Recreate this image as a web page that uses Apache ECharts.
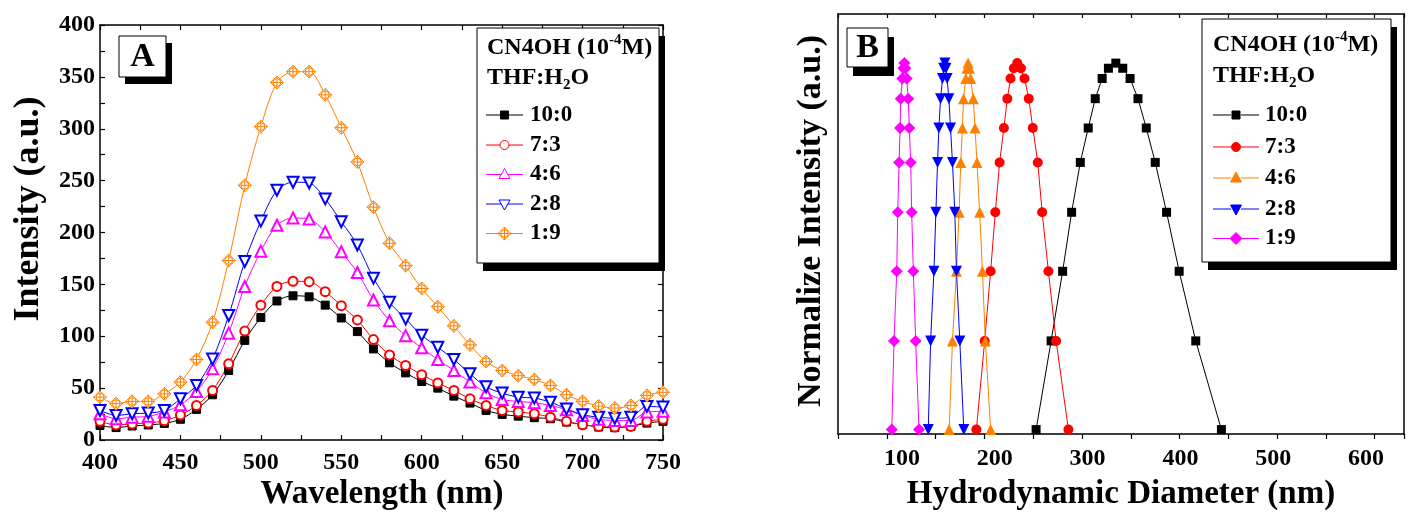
<!DOCTYPE html>
<html><head><meta charset="utf-8">
<script src="https://cdn.jsdelivr.net/npm/echarts@6/dist/echarts.min.js"></script>
<style>html,body{margin:0;padding:0;background:#fff}#c{width:1416px;height:515px}</style>
</head><body><div id="c"></div>
<script>
// ---------- Panel A data: PL spectra ----------
const wavelengths = [400,410,420,430,440,450,460,470,480,490,500,510,520,530,540,550,560,570,580,590,600,610,620,630,640,650,660,670,680,690,700,710,720,730,740,750];
const intensity10_0 = [14,12,13.5,14.5,16,20,29.5,43.6,67,96,118,134,139,138,130,117.6,104.5,87.8,74.4,64.7,56.4,50,42.3,35.6,28.5,24.7,23,21.5,20.5,17.3,15,12.5,11.9,13.1,16.3,18];
const intensity7_3 = [18,14.5,15.5,16.5,18.5,24,33.3,47.8,73.4,105,130,148,153,152.6,143,129.5,115.7,96.8,82,71.8,63,55,47.8,39.7,33.3,28.5,27,25.3,22,18,14.7,13.1,12.5,13.1,18,19.9];
const intensity4_6 = [25.3,20.5,22,22.8,27,34,46.8,68.6,103,148,182,207,214,213,200.6,181.5,161.5,135,115,100.6,88.8,77.6,67,55.8,45.5,39,37.2,35.9,33.3,29.2,23.7,19.9,18.9,18.9,27,27.6];
const intensity2_8 = [28.5,23.7,25.3,26,28.5,39.7,52.6,78,120,172,211,240.7,248.5,247.8,232.4,210.4,188,156,132.7,116.7,101,89.4,77.6,63.8,51.3,45.2,41.3,40.4,36.5,30,24.4,22,21,22,32.4,31.7];
const intensity1_9 = [41.3,35,37.2,37.2,44.5,55.8,77.6,113.5,173,245.5,302,344.6,355,355,332.7,301,268,224.4,189.6,168,146,128.5,110,91.7,75.6,67,62,58.3,52.6,43.6,37.2,32.7,30.8,33.3,43,46];

// ---------- Panel B data: DLS size distributions ----------
const normLevels = [0,0.242,0.432,0.593,0.729,0.823,0.903,0.958,0.986,1,0.986,0.958,0.903,0.823,0.729,0.593,0.432,0.242,0];
const diam10_0 = [253,268.4,280.2,289.4,298.3,306.4,313.6,320.7,327.1,334.7,341.8,349.3,357.4,365.9,375.1,386.7,399.6,416.6,442.9];
const diam7_3 = [191.8,200.3,206.4,211.2,215.6,220,223.5,226.8,230.2,233.7,237.5,241.1,245.5,249.6,254.7,259.2,265.6,273.5,286.1];
const diam4_6 = [163.9,167.3,171.4,174.1,175.8,177.5,178.6,180.9,182.1,183.3,184.6,186,188.6,190.4,192.4,195.2,198,201,206.4];
const diam2_8 = [142.5,144.9,148.3,150.3,152.0,153.4,155.1,157.1,158.3,159.5,160.7,161.8,163.6,165.3,167.3,169.7,171.4,174.8,178.9];
const diam1_9 = [105.1,107.4,110.2,111.2,112.6,113.6,114.3,115.9,117.0,118.0,119.0,120.4,122.0,123.1,124.5,125.5,127.2,129.6,133.0];

const ratioLabels = ['10:0','7:3','4:6','2:8','1:9'];
const xTitleA = 'Wavelength (nm)';
const yTitleA = 'Intensity (a.u.)';
const xTitleB = 'Hydrodynamic Diameter (nm)';
const yTitleB = 'Normalize Intensity (a.u.)';

const FONT = 'Liberation Serif';
const C = {black:'#000000', red:'#ff0000', magenta:'#ff00ff', blue:'#0000ff', orange:'#ff8000'};

const pairs = (xs, ys) => xs.map((x, i) => [x, ys[i]]);

const chart = echarts.init(document.getElementById('c'), null, {renderer:'canvas'});

const xdiamondPath = 'path://M0,-10L10,0L0,10L-10,0Z M-10,0L10,0 M0,-10L0,10 M6,0A6,6,0,1,1,-6,0A6,6,0,1,1,6,0Z';

function axisCommon(extra) {
  return Object.assign({
    type: 'value',
    splitLine: {show: false},
    axisLine: {show: true, onZero: false, lineStyle: {color: '#000', width: 1.5}},
    axisLabel: {show: false},
  }, extra);
}
const labelStyle = {color:'#000', fontFamily: FONT, fontWeight:'bold', fontSize: 24};

// Series for A
const seriesA = [
  {name: ratioLabels[0], data: intensity10_0, color: C.black, symbol: 'rect', size: 8},
  {name: ratioLabels[1], data: intensity7_3, color: C.red, symbol: 'emptyCircle', size: 9},
  {name: ratioLabels[2], data: intensity4_6, color: C.magenta, symbol: 'emptyTriangle', size: 11},
  {name: ratioLabels[3], data: intensity2_8, color: C.blue, symbol: 'emptyTriangle', size: 11, rotate: 180},
  {name: ratioLabels[4], data: intensity1_9, color: C.orange, symbol: xdiamondPath, size: 13, path: true},
].map(s => ({
  type: 'line', name: s.name, xAxisIndex: 0, yAxisIndex: 0,
  data: pairs(wavelengths, s.data),
  smooth: 0.3,
  symbol: s.symbol, symbolSize: s.size, symbolRotate: s.rotate || 0,
  showAllSymbol: true,
  lineStyle: {color: s.color, width: 1},
  itemStyle: s.path ? {color: '#fff', borderColor: s.color, borderWidth: 1} : {color: s.color, borderColor: s.color, borderWidth: 1},
  emphasis: {disabled: true},
  animation: false,
}));

// Series for B
const seriesB = [
  {name: ratioLabels[0], xs: diam10_0, color: C.black, symbol: 'rect', size: 9},
  {name: ratioLabels[1], xs: diam7_3, color: C.red, symbol: 'circle', size: 10},
  {name: ratioLabels[2], xs: diam4_6, color: C.orange, symbol: 'triangle', size: 11},
  {name: ratioLabels[3], xs: diam2_8, color: C.blue, symbol: 'triangle', size: 11, rotate: 180},
  {name: ratioLabels[4], xs: diam1_9, color: C.magenta, symbol: 'diamond', size: 12},
].map(s => ({
  type: 'line', name: s.name + ' ', xAxisIndex: 2, yAxisIndex: 2,
  data: pairs(s.xs, normLevels),
  symbol: s.symbol, symbolSize: s.size, symbolRotate: s.rotate || 0,
  showAllSymbol: true,
  lineStyle: {color: s.color, width: 1},
  itemStyle: {color: s.color},
  emphasis: {disabled: true},
  animation: false,
}));

// ---------- graphic helpers ----------
function marker(shape, cx, cy, color, filled) {
  const st = {fill: filled ? color : '#fff', stroke: color, lineWidth: 1};
  const z = 12;
  switch (shape) {
    case 'rect': return [{type:'rect', z, shape:{x:cx-4, y:cy-4, width:8, height:8}, style:st}];
    case 'circle': return [{type:'circle', z, shape:{cx, cy, r:4.5}, style:st}];
    case 'tri': return [{type:'polygon', z, shape:{points:[[cx,cy-6],[cx+5.5,cy+4],[cx-5.5,cy+4]]}, style:st}];
    case 'triDown': return [{type:'polygon', z, shape:{points:[[cx-5.5,cy-4],[cx+5.5,cy-4],[cx,cy+6]]}, style:st}];
    case 'diamond': return [{type:'polygon', z, shape:{points:[[cx,cy-6],[cx+6,cy],[cx,cy+6],[cx-6,cy]]}, style:st}];
    case 'xdiamond': return [
      {type:'polygon', z, shape:{points:[[cx,cy-6.5],[cx+6.5,cy],[cx,cy+6.5],[cx-6.5,cy]]}, style:st},
      {type:'circle', z:z+1, shape:{cx, cy, r:3.8}, style:{fill:'none', stroke:color, lineWidth:1}},
      {type:'line', z:z+1, shape:{x1:cx-6.5, y1:cy, x2:cx+6.5, y2:cy}, style:{stroke:color, lineWidth:1}},
      {type:'line', z:z+1, shape:{x1:cx, y1:cy-6.5, x2:cx, y2:cy+6.5}, style:{stroke:color, lineWidth:1}},
    ];
  }
}
function txt(x, y, text, size, align) {
  align = align || 'left';
  return {type:'text', z: 12, x, y, style: {text, fill:'#000', fontFamily: FONT, fontWeight:'bold', fontSize: size,
    align, verticalAlign:'middle', textAlign:align, textVerticalAlign:'middle'}};
}
function boxWithShadow(x, y, w, h, dx, dy) {
  return [
    {type:'rect', z: 10, shape:{x:x+dx, y:y+dy, width:w, height:h}, style:{fill:'#000'}},
    {type:'rect', z: 11, shape:{x, y, width:w, height:h}, style:{fill:'#fff', stroke:'#000', lineWidth:1}},
  ];
}
const richBase = {fontFamily: FONT, fontWeight:'bold', fontSize: 24, lineHeight: 30};
const richSmall = {fontFamily: FONT, fontWeight:'bold', fontSize: 15, lineHeight: 17};
function header(x, y, line) {
  return {type:'text', z: 12, x, y, style: {
    text: line, fill:'#000', align:'left', verticalAlign:'middle', textAlign:'left', textVerticalAlign:'middle',
    rich: {a: richBase, sup: Object.assign({verticalAlign:'top'}, richSmall), sub: Object.assign({verticalAlign:'bottom'}, richSmall)}
  }};
}

const graphics = [];
// Panel labels
graphics.push(...boxWithShadow(119, 36, 47, 41, 6, 7));
graphics.push(txt(142.5, 57, 'A', 34, 'center'));
graphics.push(...boxWithShadow(847, 28, 41, 39, 6, 9));
graphics.push(txt(867.5, 48, 'B', 34, 'center'));

// Legend A
graphics.push(...boxWithShadow(477, 28, 182, 235, 6, 8));
graphics.push(header(487, 48, '{a|CN4OH (10}{sup|-4}{a|M)}'));
graphics.push(header(487, 78, '{a|THF:H}{sub|2}{a|O}'));
const legA = [
  {c: C.black, s: 'rect', f: true}, {c: C.red, s: 'circle'}, {c: C.magenta, s: 'tri'}, {c: C.blue, s: 'triDown'}, {c: C.orange, s: 'xdiamond'}];
const legAy = [115, 145, 174.5, 204, 233.5];
legA.forEach((e, i) => {
  const y = legAy[i];
  graphics.push({type:'line', z:12, shape:{x1:486, y1:y, x2:523, y2:y}, style:{stroke:e.c, lineWidth:1}});
  graphics.push(...marker(e.s, 504.5, y, e.c, e.f));
  graphics.push(txt(530, y, ratioLabels[i], 23));
});
// Legend B
graphics.push(...boxWithShadow(1202, 19, 189, 243, 6, 8));
graphics.push(header(1213, 45, '{a|CN4OH (10}{sup|-4}{a|M)}'));
graphics.push(header(1213, 76, '{a|THF:H}{sub|2}{a|O}'));
const legB = [
  {c: C.black, s: 'rect'}, {c: C.red, s: 'circle'}, {c: C.orange, s: 'tri'}, {c: C.blue, s: 'triDown'}, {c: C.magenta, s: 'diamond'}];
const legBy = [115, 147, 178, 209, 238.5];
legB.forEach((e, i) => {
  const y = legBy[i];
  graphics.push({type:'line', z:12, shape:{x1:1213, y1:y, x2:1231, y2:y}, style:{stroke:e.c, lineWidth:1}});
  graphics.push({type:'line', z:12, shape:{x1:1241, y1:y, x2:1259, y2:y}, style:{stroke:e.c, lineWidth:1}});
  graphics.push(...marker(e.s, 1236, y, e.c, true));
  graphics.push(txt(1265, y, ratioLabels[i], 23));
});
// Axis titles
const titleStyle = (text, size) => ({text, fill:'#000', fontFamily:FONT, fontWeight:'bold', fontSize:size, align:'center', verticalAlign:'middle', textAlign:'center', textVerticalAlign:'middle'});
graphics.push({type:'text', z:12, x:382, y:494, style:titleStyle(xTitleA, 33)});
graphics.push({type:'text', z:12, x:1121, y:494, style:titleStyle(xTitleB, 33)});
graphics.push({type:'text', z:12, x:29, y:209, rotation:Math.PI/2, style:titleStyle(yTitleA, 36)});
graphics.push({type:'text', z:12, x:811, y:221, rotation:Math.PI/2, style:titleStyle(yTitleB, 34)});

const tickLine = {color:'#000', width:1.2};
const option = {
  backgroundColor: '#fff',
  animation: false,
  grid: [
    {left: 100, top: 25, width: 563, height: 415},
    {left: 838, top: 14, width: 566, height: 420},
  ],
  xAxis: [
    axisCommon({gridIndex:0, position:'bottom', min:400, max:750, interval:50,
      axisTick:{show:true, inside:true, length:5, lineStyle:tickLine},
      minorTick:{show:true, splitNumber:2, length:5, lineStyle:tickLine},
      axisLabel:Object.assign({show:true, margin:11}, labelStyle)}),
    axisCommon({gridIndex:0, position:'top', min:400, max:750, interval:50,
      axisTick:{show:true, inside:true, length:5, lineStyle:tickLine},
      minorTick:{show:true, splitNumber:2, length:5, lineStyle:tickLine}}),
    // B: data axis with its tick marks
    axisCommon({gridIndex:1, position:'bottom', min:50, max:630, interval:50,
      axisTick:{show:true, inside:false, length:5, lineStyle:tickLine}}),
    axisCommon({gridIndex:1, position:'top', min:50, max:630, interval:50,
      axisTick:{show:true, inside:true, length:4, lineStyle:tickLine}}),
    // B: tick-label row as printed in the figure
    axisCommon({gridIndex:1, position:'bottom', min:31, max:641, splitNumber:6,
      axisLine:{show:false}, axisTick:{show:false},
      axisLabel:Object.assign({show:true, margin:13, showMinLabel:false, showMaxLabel:false,
        formatter: v => (v % 100 === 0 ? String(v) : '')}, labelStyle)}),
  ],
  yAxis: [
    axisCommon({gridIndex:0, position:'left', min:0, max:400, interval:50,
      axisTick:{show:true, inside:true, length:5, lineStyle:tickLine},
      minorTick:{show:true, splitNumber:2, length:5, lineStyle:tickLine},
      axisLabel:Object.assign({show:true, margin:5}, labelStyle)}),
    axisCommon({gridIndex:0, position:'right', min:0, max:400, interval:50,
      axisTick:{show:true, inside:true, length:5, lineStyle:tickLine},
      minorTick:{show:true, splitNumber:2, length:5, lineStyle:tickLine}}),
    axisCommon({gridIndex:1, position:'left', min:-0.012, max:1.134, axisTick:{show:false}}),
    axisCommon({gridIndex:1, position:'right', min:-0.012, max:1.134, axisTick:{show:false}}),
  ],
  series: [...seriesA, ...seriesB],
  graphic: {elements: graphics},
};
chart.setOption(option);
</script>
</body></html>
